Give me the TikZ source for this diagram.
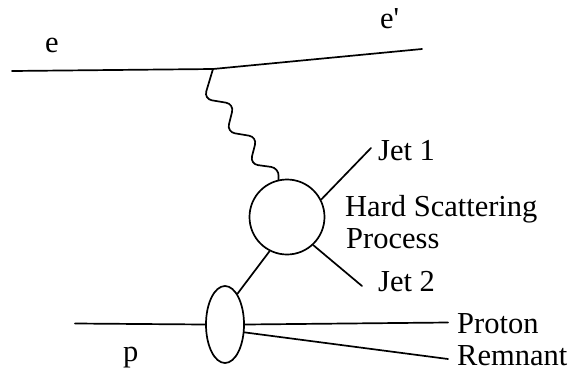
\documentclass[tikz,border=0pt]{standalone}
\usepackage{fontspec}
\setmainfont{Liberation Serif}
\usetikzlibrary{shapes.geometric}
\begin{document}
\begin{tikzpicture}[x=1pt,y=-1pt,
  ln/.style={line width=1.7pt, line cap=round, line join=round},
  lbl/.style={anchor=base west, inner sep=0pt, font=\fontsize{30.5}{36}\selectfont}]
\useasboundingbox (0,0) rectangle (574,376);
% nodes
\node[circle, draw, ln, minimum size=75pt, inner sep=0pt] (hs) at (287,217) {};
\node[ellipse, draw, ln, minimum width=38pt, minimum height=77pt, inner sep=0pt] (blob) at (225,324.5) {};
% coordinates
\coordinate (ein) at (12,71);
\coordinate (v) at (213,69);
\coordinate (eout) at (422,49);
\coordinate (pin) at (75,323.5);
\coordinate (pout) at (448,322.5);
\coordinate (rout) at (448,359);
\coordinate (j1) at (371,148);
\coordinate (j2) at (362,286);
% electron line
\draw[ln] (ein) -- (v) -- (eout);
% photon
\draw[ln, rounded corners=8pt] (v) -- (204,99) -- (234,104) -- (227,132) -- (257,137) -- (250,164) -- (279,168) -- (hs.103);
% jets
\draw[ln] (hs.27) -- (j1);
\draw[ln] (hs.-47) -- (j2);
\draw[ln] (blob.68) -- (hs.243);
% proton
\draw[ln] (pin) -- (blob.west);
\draw[ln] (blob.east) -- (pout);
\draw[ln] (blob.-22) -- (rout);
% labels
\node[lbl] (le) at (45,52) {e};
\node[lbl] (lep) at (380,28) {e\textquotesingle};
\node[lbl] (lj1) at (378,160) {Jet 1};
\node[lbl] (lhs) at (345,216) {Hard Scattering};
\node[lbl] (lpr) at (346,248) {Process};
\node[lbl] (lj2) at (378,291) {Jet 2};
\node[lbl] (lpt) at (457,333) {Proton};
\node[lbl] (lrm) at (457,365) {Remnant};
\node[lbl] (lp) at (123,361) {p};
\end{tikzpicture}
\end{document}
